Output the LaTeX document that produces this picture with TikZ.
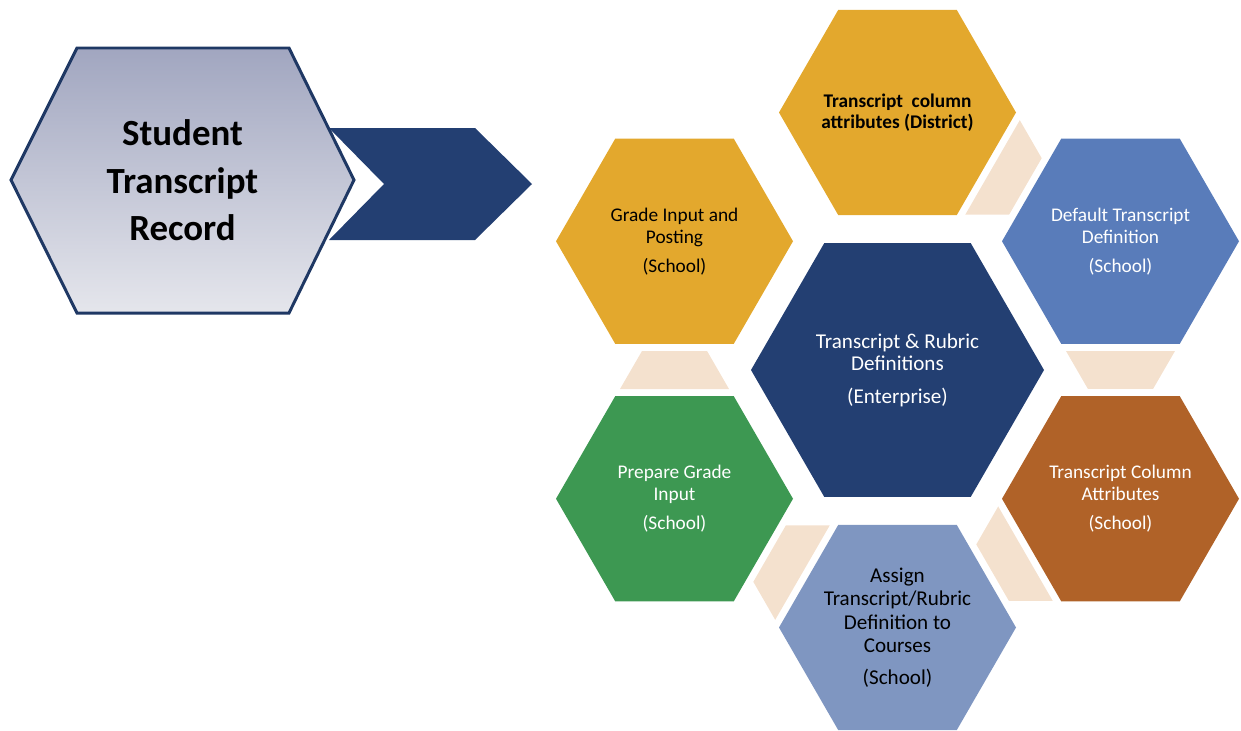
\documentclass[tikz,border=0pt]{standalone}
\usepackage{fontspec}
\setmainfont{Carlito}
\usepackage{tikz}
\usetikzlibrary{shapes.geometric,calc}

\definecolor{gold}{HTML}{E3A82D}
\definecolor{skyblue}{HTML}{597CBA}
\definecolor{navy}{HTML}{233F72}
\definecolor{rust}{HTML}{B06228}
\definecolor{leaf}{HTML}{3D9852}
\definecolor{paleblue}{HTML}{7F96C1}
\definecolor{peach}{HTML}{F4E1CE}
\definecolor{rim}{HTML}{1F3864}
\definecolor{greytop}{HTML}{A1A6C0}
\definecolor{greybot}{HTML}{E5E6EC}

\tikzset{
  cell/.style={regular polygon, regular polygon sides=6, minimum size=4.74cm,
    inner sep=-0.25cm, fill=#1, align=center, font=\fontsize{11}{12.5}\selectfont},
  link/.style={fill=peach},
}

\begin{document}
\begin{tikzpicture}
\useasboundingbox (0,0) rectangle (24.82,-14.6);

% arrow behind the record
\fill[navy] (6.58,-2.56) -- (9.50,-2.56) -- (10.64,-3.68) -- (9.50,-4.80) -- (6.58,-4.80) -- (7.68,-3.68) -- cycle;
\draw[line width=1.7pt, draw=rim, top color=greytop, bottom color=greybot]
  (0.22,-3.60) -- (1.54,-0.96) -- (5.78,-0.96) -- (7.08,-3.60) -- (5.78,-6.26) -- (1.54,-6.26) -- cycle;
\node[align=center, font=\fontsize{21}{27}\selectfont\bfseries] (record) at (3.65,-3.61) {Student\\Transcript\\Record};

% hexagon cluster
\node[cell=navy, minimum size=5.86cm, text=white, font=\fontsize{12}{12.7}\selectfont] (core) at (17.95,-7.40)
  {Transcript \& Rubric\\Definitions\\[6pt](Enterprise)};
\node[cell=gold, text=black, font=\fontsize{11}{12.3}\selectfont\bfseries] (district) at ($(core)+(90:5.15)$)
  {Transcript\ \ column\\attributes (District)};
\node[cell=skyblue, text=white] (default) at ($(core)+(30:5.15)$)
  {Default Transcript\\Definition\\[4pt](School)};
\node[cell=rust, text=white] (colattr) at ($(core)+(-30:5.15)$)
  {Transcript Column\\Attributes\\[4pt](School)};
\node[cell=paleblue, text=black, font=\fontsize{12}{13.4}\selectfont] (assign) at ($(core)+(-90:5.15)$)
  {Assign\\Transcript/Rubric\\Definition to\\Courses\\[4.5pt](School)};
\node[cell=leaf, text=white] (prepare) at ($(core)+(-150:5.15)$)
  {Prepare Grade\\Input\\[4pt](School)};
\node[cell=gold, text=black] (grade) at ($(core)+(150:5.15)$)
  {Grade Input and\\Posting\\[4pt](School)};

% links between neighbours
\foreach \a/\b in {district/default, default/colattr, colattr/assign, assign/prepare, prepare/grade}
  \fill[link] let \p1=($(\b)-(\a)$), \n1={atan2(\y1,\x1)} in
    ($(\a)!0.5!(\b)$) ++(\n1+180:0.38) ++(\n1+90:1.09) -- ++(\n1-90:2.18)
    -- ++(\n1+30:0.877) -- ++(\n1+90:1.302) -- cycle;
\end{tikzpicture}
\end{document}
